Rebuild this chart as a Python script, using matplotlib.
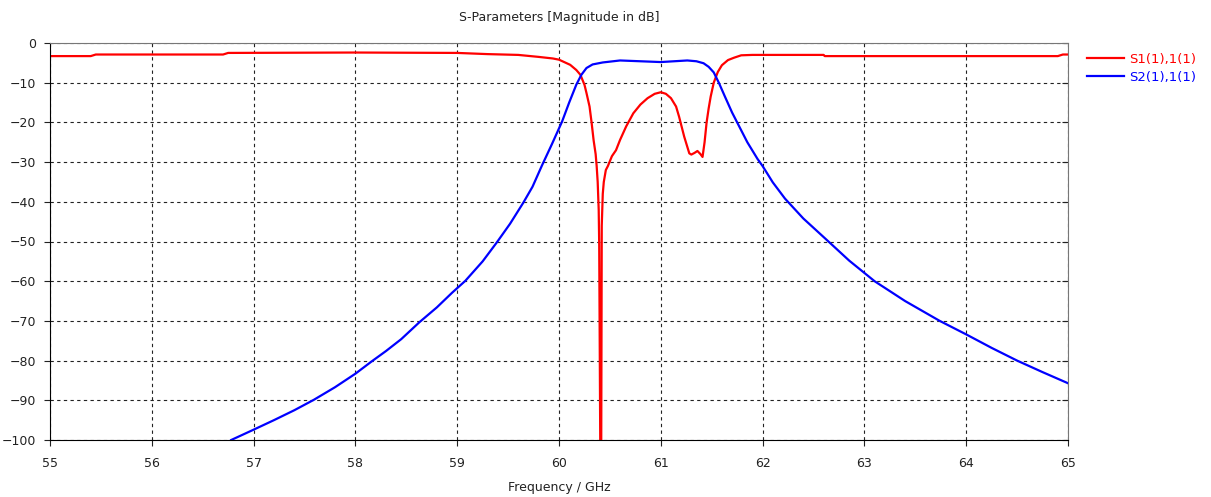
import numpy as np
import matplotlib
matplotlib.use("Agg")
import matplotlib.pyplot as plt

# S1(1),1(1) - reflection
s11_freq = [55.0, 55.4, 55.45, 56.7, 56.75, 58.0, 59.0, 59.3, 59.6, 59.8, 59.94,
            60.0, 60.11, 60.17, 60.21, 60.25, 60.27, 60.30, 60.32, 60.34, 60.36,
            60.37, 60.38, 60.39, 60.395, 60.405, 60.415, 60.42, 60.43, 60.44, 60.46,
            60.48, 60.52, 60.56, 60.60, 60.66, 60.73, 60.80, 60.87, 60.94, 61.0,
            61.05, 61.10, 61.15, 61.18, 61.23, 61.28, 61.30, 61.33, 61.36, 61.39,
            61.41, 61.43, 61.45, 61.47, 61.49, 61.52, 61.56, 61.60, 61.66, 61.72,
            61.79, 61.9, 62.6, 62.61, 64.9, 64.95, 65.0]
s11_db = [-3.3, -3.3, -2.9, -2.9, -2.5, -2.4, -2.5, -2.8, -3.0, -3.5, -3.9,
          -4.2, -5.5, -6.8, -8.0, -10.5, -12.6, -16.0, -20.0, -24.5, -28.0,
          -31.0, -35.0, -42.0, -51.0, -100.0, -100.0, -46.0, -38.0, -35.0, -32.0,
          -31.0, -28.5, -27.0, -24.4, -21.0, -17.7, -15.5, -13.9, -12.8, -12.4,
          -12.8, -13.9, -16.0, -18.6, -23.6, -27.8, -28.1, -27.7, -27.2, -28.0,
          -28.7, -25.0, -20.0, -16.5, -13.5, -10.0, -7.3, -5.6, -4.3, -3.7,
          -3.1, -3.0, -3.0, -3.3, -3.3, -2.9, -2.9]

# S2(1),1(1) - transmission
s21_freq = [56.78, 57.0, 57.2, 57.4, 57.59, 57.8, 58.0, 58.16, 58.3, 58.45, 58.63,
            58.8, 58.95, 59.08, 59.25, 59.39, 59.52, 59.65, 59.74, 59.83, 59.93,
            60.03, 60.10, 60.17, 60.22, 60.27, 60.33, 60.43, 60.6, 60.8, 61.0,
            61.26, 61.35, 61.42, 61.47, 61.52, 61.57, 61.63, 61.70, 61.76, 61.85,
            61.95, 62.0, 62.1, 62.22, 62.4, 62.63, 62.85, 63.1, 63.4, 63.74,
            64.0, 64.25, 64.5, 64.75, 65.0]
s21_db = [-100.0, -97.4, -95.0, -92.5, -89.9, -86.7, -83.3, -80.2, -77.6, -74.6, -70.3,
          -66.6, -62.9, -59.9, -55.0, -50.2, -45.5, -40.2, -36.2, -31.0, -25.5,
          -19.8, -15.0, -10.5, -8.0, -6.3, -5.4, -4.9, -4.4, -4.6, -4.8,
          -4.4, -4.6, -5.1, -6.0, -7.4, -10.0, -13.5, -17.5, -20.5, -25.0,
          -29.2, -31.0, -35.1, -39.2, -44.2, -49.6, -54.8, -60.0, -65.0, -70.0,
          -73.4, -76.8, -80.0, -82.9, -85.7]

x_ticks = list(range(55, 66))
y_ticks = list(range(-100, 1, 10))

plt.rcParams["font.family"] = ["DejaVu Sans"]
plt.rcParams["font.size"] = 9

fig = plt.figure(figsize=(12.11, 4.97), dpi=100)
ax = fig.add_axes([50 / 1211, 1 - 440 / 497, (1068 - 50) / 1211, (440 - 43) / 497])

ax.plot(s11_freq, s11_db, color="#ff0000", lw=1.6, label="S1(1),1(1)")
ax.plot(s21_freq, s21_db, color="#0000ff", lw=1.6, label="S2(1),1(1)")

ax.set_xlim(55, 65)
ax.set_ylim(-100, 0)
ax.set_xticks(x_ticks)
ax.set_yticks(y_ticks)
ax.grid(True, color="#222222", linestyle=(0, (3, 3)), lw=0.8)
ax.tick_params(direction="out", length=4, colors="#222222", labelcolor="#222222")
ax.tick_params(axis="x", pad=8)
ax.tick_params(axis="y", pad=6)

for s in ["left", "bottom"]:
    ax.spines[s].set_color("#000000")
for s in ["top", "right"]:
    ax.spines[s].set_color("#777777")

sec = ax.secondary_yaxis("right")
sec.set_yticks(y_ticks)
sec.tick_params(direction="in", length=4, labelright=False, colors="#222222")
sec.spines["right"].set_visible(False)

ax.set_title("S-Parameters [Magnitude in dB]", fontsize=9, color="#222222", pad=16)
ax.set_xlabel("Frequency / GHz", fontsize=9, color="#222222", labelpad=8)

leg = ax.legend(loc="upper left", bbox_to_anchor=(1.007, 1.005), frameon=False,
                handlelength=2.8, handletextpad=0.4, labelspacing=0.35,
                labelcolor="linecolor", fontsize=9.5)

fig.savefig("out.png", dpi=100, facecolor="white")
